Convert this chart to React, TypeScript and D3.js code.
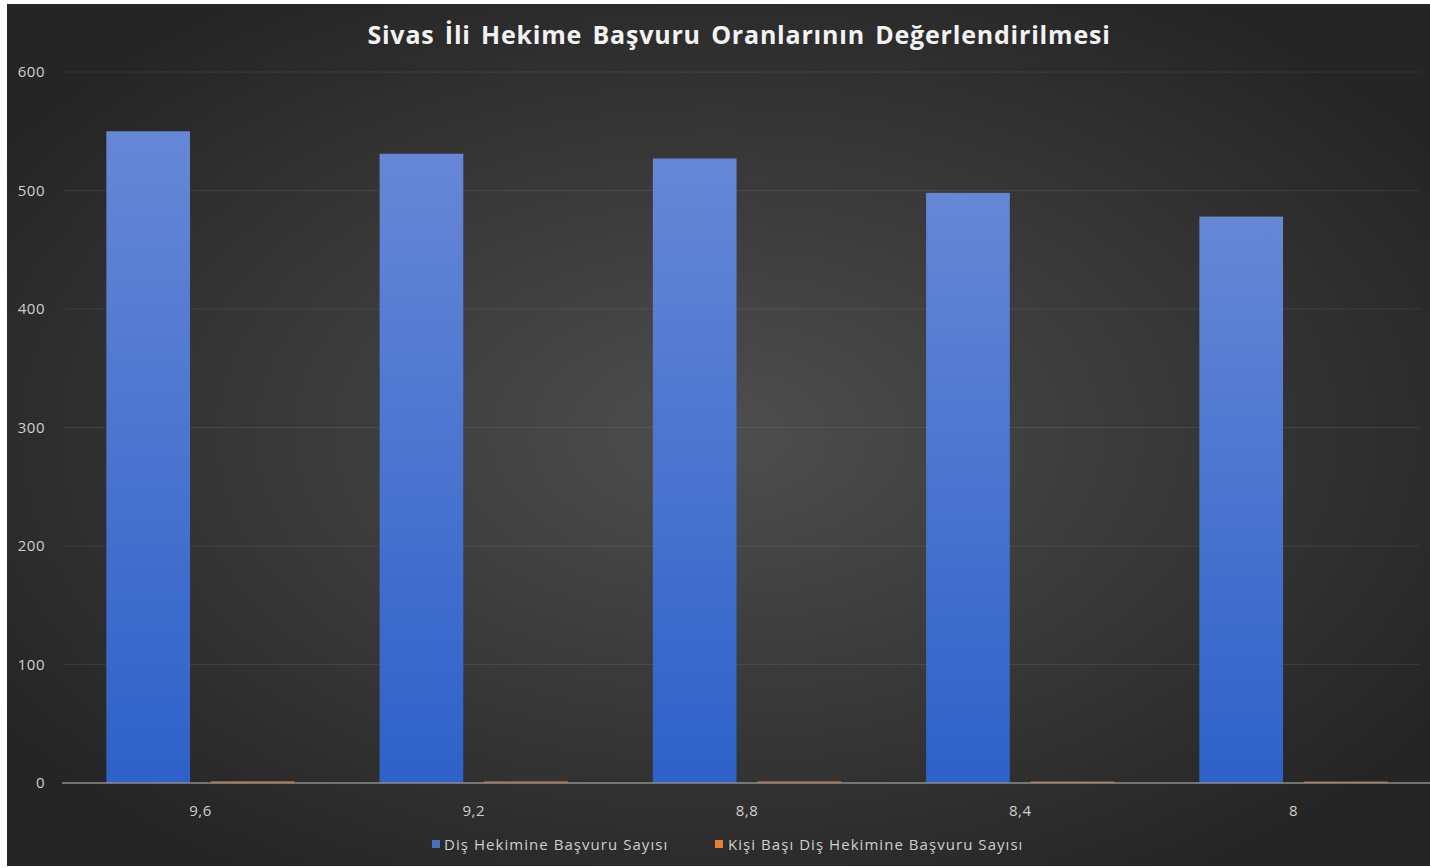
import React from "react";
import * as d3 from "d3";

const categories = ["9,6", "9,2", "8,8", "8,4", "8"];
const seriesNames = ["Diş Hekimine Başvuru Sayısı", "Kişi Başı Diş Hekimine Başvuru Sayısı"];
const basvuruSayisi = [550, 531, 527, 498, 478];
const kisiBasi = [1.5, 1.4, 1.4, 1.3, 1.3];
const yTicks = [0, 100, 200, 300, 400, 500, 600];
const title = "Sivas İli Hekime Başvuru Oranlarının Değerlendirilmesi";

const W = 1430;
const H = 868;

export default function App() {
  const frame = { x: 7, y: 4, w: W - 7, h: H - 6 };
  const plot = { left: 64, right: 1430, top: 72, bottom: 783 };
  const y = d3.scaleLinear().domain([0, 600]).range([plot.bottom, plot.top]);
  const x = d3.scaleBand<string>().domain(categories).range([plot.left, plot.right]).paddingInner(0.311).paddingOuter(0.155);
  const inner = d3.scaleBand<string>().domain(["a", "b"]).range([0, x.bandwidth()]).paddingInner(0.2);
  const series = [basvuruSayisi, kisiBasi];
  const fills = ["url(#blueGrad)", "#ed7d31"];
  const font = "'Open Sans', 'DejaVu Sans', sans-serif";

  return (
    <div style={{ position: "absolute", left: 0, top: 0 }}>
      <svg width={W} height={H} style={{ display: "block" }}>
        <defs>
          <radialGradient id="bgGrad" cx="0.5" cy="0.5" r="0.6">
            <stop offset="0%" stopColor="#4e4e4e" />
            <stop offset="100%" stopColor="#252525" />
          </radialGradient>
          <linearGradient id="blueGrad" x1="0" y1="0" x2="0" y2="1">
            <stop offset="0%" stopColor="#6687d6" />
            <stop offset="100%" stopColor="#2e61c9" />
          </linearGradient>
        </defs>
        <rect x={0} y={0} width={W} height={H} fill="#ffffff" />
        <rect x={frame.x} y={frame.y} width={frame.w} height={frame.h} fill="url(#bgGrad)" />
        <text x={739} y={44} textAnchor="middle" fill="#f2f2f2" fontFamily={font} fontWeight="bold" fontSize={25} style={{ wordSpacing: "3px", letterSpacing: "0.8px" }}>
          {title}
        </text>
        {yTicks.map((t) => (
          <g key={t}>
            {t > 0 && (
              <line x1={plot.left} x2={1420} y1={y(t)} y2={y(t)} stroke="#ffffff" strokeOpacity={0.08} strokeWidth={1} />
            )}
            <text x={45} y={y(t) + 5} textAnchor="end" fill="#cfcfcf" fontFamily={font} fontSize={15} style={{ letterSpacing: "0.5px" }}>
              {t}
            </text>
          </g>
        ))}
        {categories.map((c, i) => (
          <g key={c}>
            {series.map((s, j) => {
              const bx = (x(c) as number) + (inner(j === 0 ? "a" : "b") as number);
              return (
                <rect
                  key={j}
                  x={bx}
                  y={y(s[i])}
                  width={inner.bandwidth()}
                  height={plot.bottom - y(s[i])}
                  fill={fills[j]}
                  opacity={j === 1 ? 0.75 : 1}
                />
              );
            })}
            <text x={(x(c) as number) + x.bandwidth() / 2} y={816} textAnchor="middle" fill="#cfcfcf" fontFamily={font} fontSize={15} style={{ letterSpacing: "0.5px" }}>
              {c}
            </text>
          </g>
        ))}
        <line x1={plot.left - 2} x2={plot.right} y1={plot.bottom} y2={plot.bottom} stroke="#8c8c8c" strokeWidth={1.5} />
        <g fontFamily={font} fontSize={15} fill="#cfcfcf" style={{ letterSpacing: "1.05px" }}>
          <rect x={432} y={840} width={8} height={8} fill="#4472c4" />
          <text x={444} y={850}>{seriesNames[0]}</text>
          <rect x={715} y={840} width={8} height={8} fill="#ed7d31" />
          <text x={728} y={850}>{seriesNames[1]}</text>
        </g>
      </svg>
    </div>
  );
}
